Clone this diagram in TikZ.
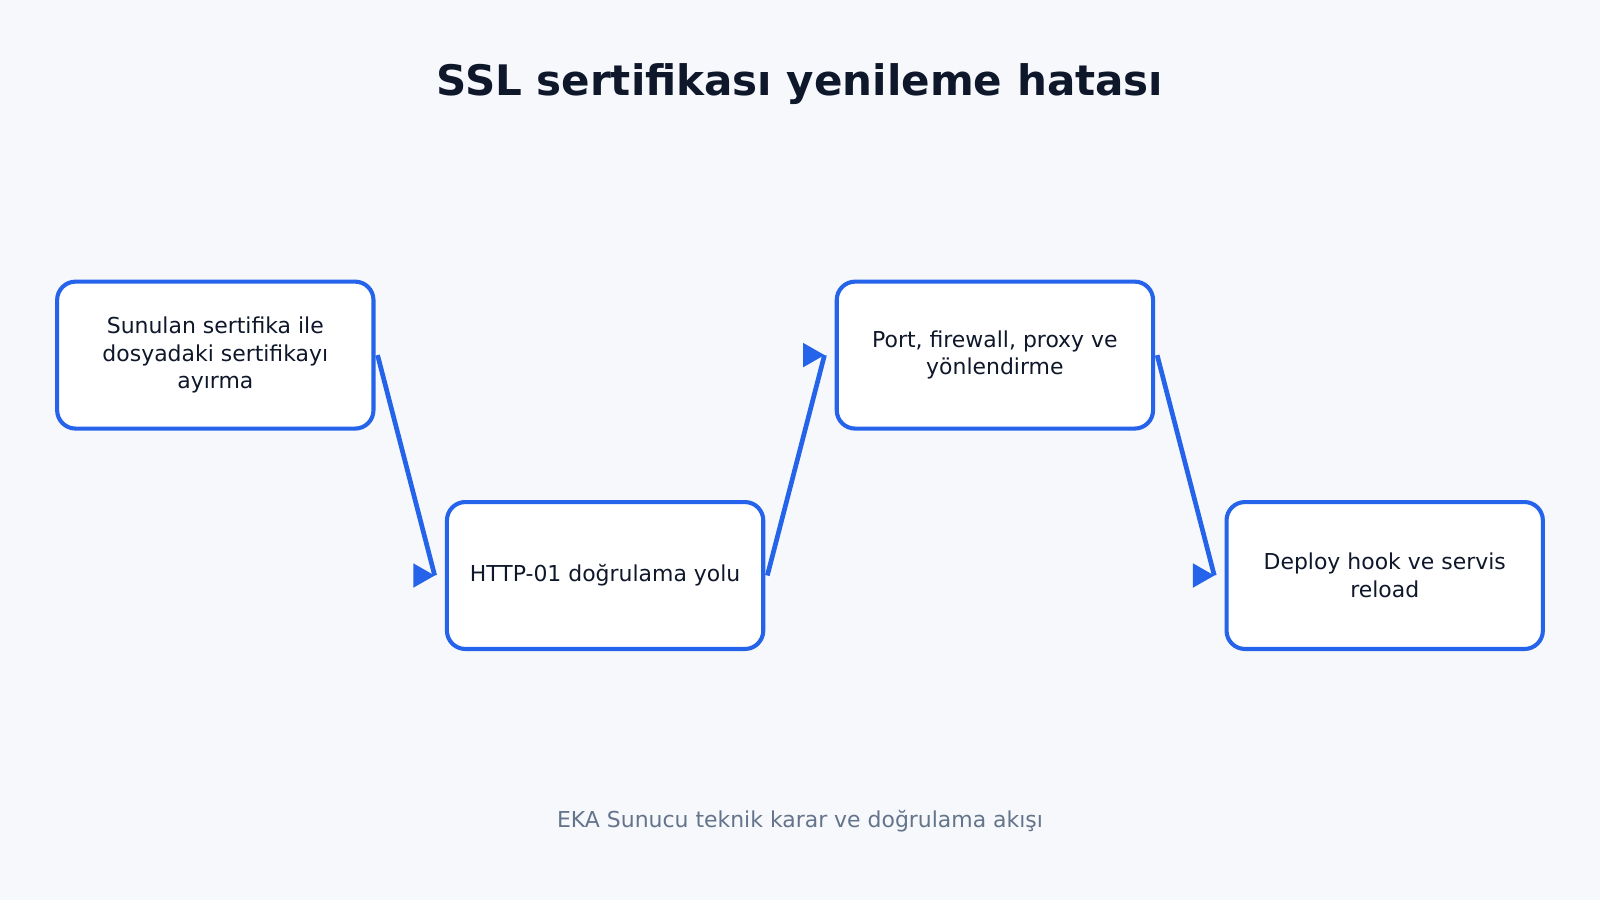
\documentclass[tikz,border=0pt]{standalone}
\usepackage{fontspec}
\setmainfont{DejaVu Sans}
\definecolor{bg}{HTML}{F6F8FC}
\definecolor{blue}{HTML}{2563EB}
\definecolor{ink}{HTML}{0F172A}
\definecolor{muted}{HTML}{64748B}
\begin{document}
\begin{tikzpicture}[x=1pt,y=-1pt,
  stepbox/.style={draw=blue,line width=4pt,fill=white,rounded corners=18pt,
    minimum width=310pt,minimum height=144pt,align=center,text=ink,
    font=\fontsize{21.5}{27}\selectfont,inner sep=0pt},
  link/.style={draw=blue,line width=4.6pt},
  tip/.style={fill=blue}]
\fill[bg] (0,0) rectangle (1568,882);
\useasboundingbox (0,0) rectangle (1568,882);
\node[font=\bfseries\fontsize{41.2}{48}\selectfont,text=ink] (title) at (784,82) {SSL sertifikası yenileme hatası};
\node[stepbox] (b1) at (211,348) {Sunulan sertifika ile\\dosyadaki sertifikayı\\ayırma};
\node[stepbox] (b2) at (593,564) {HTTP-01 doğrulama yolu};
\node[stepbox] (b3) at (975,348) {Port, firewall, proxy ve\\yönlendirme};
\node[stepbox] (b4) at (1357,564) {Deploy hook ve servis\\reload};
\node[font=\fontsize{21.5}{26}\selectfont,text=muted] (foot) at (784,805) {EKA Sunucu teknik karar ve doğrulama akışı};
\coordinate (e1) at ([xshift=-10pt]b2.west);
\coordinate (e2) at ([xshift=-10pt]b3.west);
\coordinate (e3) at ([xshift=-10pt]b4.west);
\draw[link] ([xshift=2pt]b1.east) -- (e1);
\draw[link] ([xshift=2pt]b2.east) -- (e2);
\draw[link] ([xshift=2pt]b3.east) -- (e3);
\foreach \e in {e1,e2,e3}{
  \fill[tip] (\e) -- ++(-21,-12) -- ++(0,24) -- cycle;
}
\end{tikzpicture}
\end{document}
